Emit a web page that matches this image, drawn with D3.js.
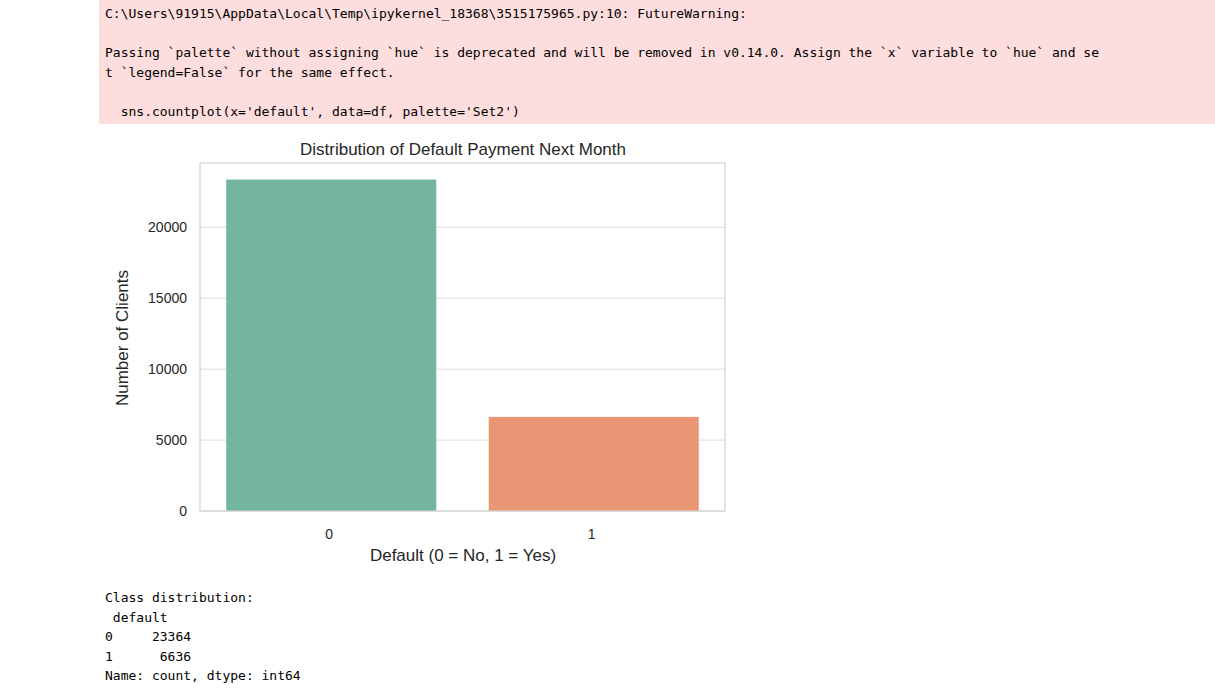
<!DOCTYPE html>
<html><head><meta charset="utf-8">
<script src="https://cdn.jsdelivr.net/npm/d3@7"></script>
<style>
body{margin:0;background:#fff;width:1215px;height:696px;overflow:hidden;position:relative}
.warn{position:absolute;left:99px;top:0;width:1116px;height:124px;background:#fddddd}
pre{margin:0;font-family:"DejaVu Sans Mono",monospace;font-size:13px;line-height:19.5px;color:#000}
</style></head><body>
<div class="warn"><pre style="padding:4px 0 0 6px">C:\Users\91915\AppData\Local\Temp\ipykernel_18368\3515175965.py:10: FutureWarning:

Passing `palette` without assigning `hue` is deprecated and will be removed in v0.14.0. Assign the `x` variable to `hue` and se
t `legend=False` for the same effect.

  sns.countplot(x='default', data=df, palette='Set2')</pre></div>
<svg id="chart" width="1215" height="696" style="position:absolute;left:0;top:0"></svg>
<pre style="position:absolute;left:105px;top:588px">Class distribution:
 default
0     23364
1      6636
Name: count, dtype: int64</pre>
<script>
const categories = ["0", "1"];
const counts = [23364, 6636];
const yTicks = [0, 5000, 10000, 15000, 20000];
const barColors = ["#73b5a1", "#e99675"];

const svg = d3.select("#chart");
const plot = { left: 200, right: 725, top: 163, bottom: 511 };

const x = d3.scaleBand().domain(categories).range([plot.left, plot.right]).paddingInner(0.2).paddingOuter(0.1);
const y = d3.scaleLinear().domain([0, d3.max(counts) * 1.05]).range([plot.bottom, plot.top]);

// grid
svg.append("g").selectAll("line").data(yTicks).enter().append("line")
    .attr("x1", plot.left).attr("x2", plot.right)
    .attr("y1", d => y(d)).attr("y2", d => y(d))
    .attr("stroke", "#dcdcdc").attr("stroke-width", 1);

svg.selectAll(".bar").data(counts).enter().append("rect")
    .attr("x", (d, i) => x(categories[i]))
    .attr("y", d => y(d))
    .attr("width", x.bandwidth())
    .attr("height", d => plot.bottom - y(d))
    .attr("fill", (d, i) => barColors[i]);

svg.append("rect")
    .attr("x", plot.left).attr("y", plot.top)
    .attr("width", plot.right - plot.left).attr("height", plot.bottom - plot.top)
    .attr("fill", "none").attr("stroke", "#d0d0d0").attr("stroke-width", 1.2);

const font = "Liberation Sans, Arial, sans-serif";
svg.append("g").selectAll("text").data(yTicks).enter().append("text")
    .attr("x", plot.left - 13).attr("y", d => y(d) + 5)
    .attr("text-anchor", "end").attr("font-family", font).attr("font-size", 14).attr("fill", "#262626")
    .text(d => d);

svg.append("g").selectAll("text").data(categories).enter().append("text")
    .attr("x", d => x(d) + x.bandwidth() / 2 - 2).attr("y", plot.bottom + 28)
    .attr("text-anchor", "middle").attr("font-family", font).attr("font-size", 14).attr("fill", "#262626")
    .text(d => d);

svg.append("text").attr("x", 463).attr("y", 155).attr("text-anchor", "middle")
    .attr("font-family", font).attr("font-size", 17).attr("fill", "#262626")
    .text("Distribution of Default Payment Next Month");

svg.append("text").attr("x", 463).attr("y", 561).attr("text-anchor", "middle")
    .attr("font-family", font).attr("font-size", 17).attr("fill", "#262626")
    .text("Default (0 = No, 1 = Yes)");

svg.append("text").attr("transform", "translate(128,338) rotate(-90)").attr("text-anchor", "middle")
    .attr("font-family", font).attr("font-size", 17).attr("fill", "#262626")
    .text("Number of Clients");
</script>
</body></html>
